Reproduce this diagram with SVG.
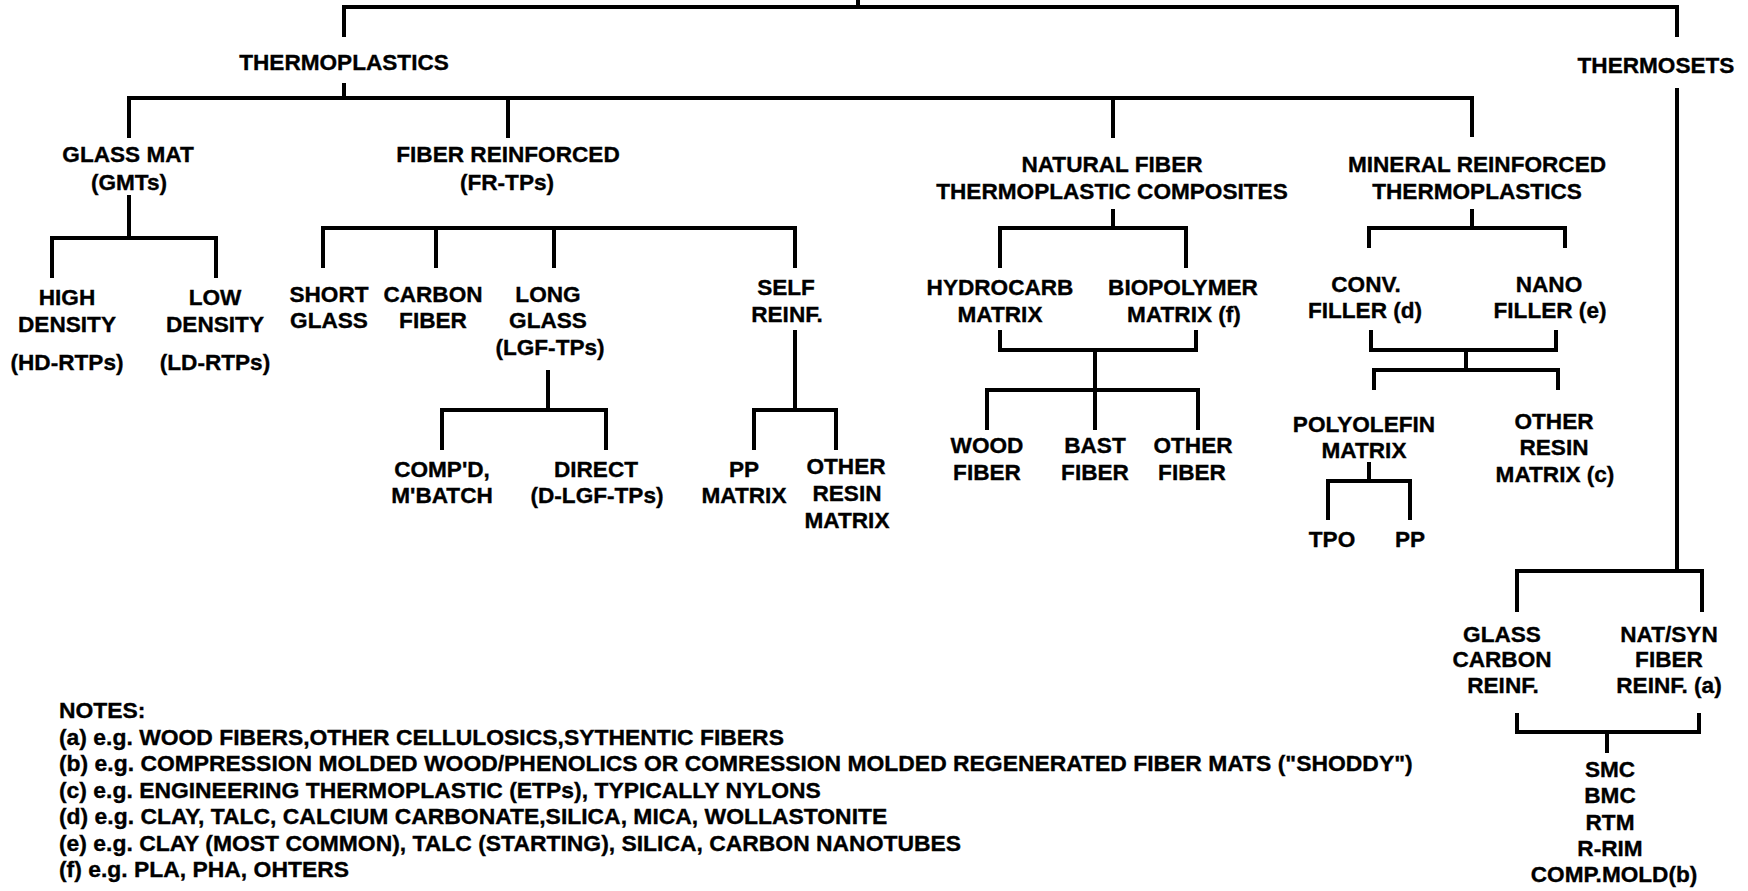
<svg xmlns="http://www.w3.org/2000/svg" width="1748" height="891" viewBox="0 0 1748 891">
<style>
text{font-family:"Liberation Sans",Arial,sans-serif;font-weight:bold;font-size:22.6px;fill:#000;stroke:#000;stroke-width:0.35}
.c{text-anchor:middle}
.n{font-size:22.9px}
.ln{fill:none;stroke:#000;stroke-width:4;stroke-linejoin:miter;stroke-linecap:butt}
</style>
<rect width="1748" height="891" fill="#fff"/>
<g id="connectors" class="ln">
<path d="M858,0V7"/>
<path d="M344,37V7H1677V37"/>
<path d="M344,83V98"/>
<path d="M129,138V98H1472V137"/>
<path d="M508,98V138"/>
<path d="M1113,98V138"/>
<path d="M1677,88V571"/>
<path d="M1517,612V571H1702V612"/>
<path d="M129,195V238"/>
<path d="M52,278V238H216V278"/>
<path d="M323,268V228H795V268"/>
<path d="M436,228V268"/>
<path d="M554,228V268"/>
<path d="M548,370V410"/>
<path d="M442,450V410H606V450"/>
<path d="M795,330V410"/>
<path d="M754,450V410H836V450"/>
<path d="M1113,209V228"/>
<path d="M1000,268V228H1186V268"/>
<path d="M1000,330V350H1196V330"/>
<path d="M1095,350V430"/>
<path d="M987,430V390H1198V430"/>
<path d="M1472,209V228"/>
<path d="M1369,248V228H1565V248"/>
<path d="M1371,330V350H1556V330"/>
<path d="M1466,350V370"/>
<path d="M1374,390V370H1558V390"/>
<path d="M1369,462V481"/>
<path d="M1328,520V481H1410V520"/>
<path d="M1517,713V732H1699V713"/>
<path d="M1607,732V753"/>
</g>
<g id="thermoplastics"><text class="c" x="344" y="70">THERMOPLASTICS</text></g>
<g id="thermosets"><text class="c" x="1656" y="73">THERMOSETS</text></g>
<g id="gmt"><text class="c" x="128" y="162">GLASS MAT</text><text class="c" x="129" y="190">(GMTs)</text></g>
<g id="frtp"><text class="c" x="508" y="162">FIBER REINFORCED</text><text class="c" x="507" y="190">(FR-TPs)</text></g>
<g id="nftc"><text class="c" x="1112" y="172">NATURAL FIBER</text><text class="c" x="1112" y="199">THERMOPLASTIC COMPOSITES</text></g>
<g id="mrtp"><text class="c" x="1477" y="172">MINERAL REINFORCED</text><text class="c" x="1477" y="199">THERMOPLASTICS</text></g>
<g id="hd"><text class="c" x="67" y="305">HIGH</text><text class="c" x="67" y="332">DENSITY</text><text class="c" x="67" y="370">(HD-RTPs)</text></g>
<g id="ld"><text class="c" x="215" y="305">LOW</text><text class="c" x="215" y="332">DENSITY</text><text class="c" x="215" y="370">(LD-RTPs)</text></g>
<g id="short"><text class="c" x="329" y="302">SHORT</text><text class="c" x="329" y="328">GLASS</text></g>
<g id="carbon"><text class="c" x="433" y="302">CARBON</text><text class="c" x="433" y="328">FIBER</text></g>
<g id="long"><text class="c" x="548" y="302">LONG</text><text class="c" x="548" y="328">GLASS</text><text class="c" x="550" y="355">(LGF-TPs)</text></g>
<g id="self"><text class="c" x="786" y="295">SELF</text><text class="c" x="787" y="322">REINF.</text></g>
<g id="hydrocarb"><text class="c" x="1000" y="295">HYDROCARB</text><text class="c" x="1000" y="322">MATRIX</text></g>
<g id="biopolymer"><text class="c" x="1183" y="295">BIOPOLYMER</text><text class="c" x="1184" y="322">MATRIX (f)</text></g>
<g id="conv"><text class="c" x="1366" y="292">CONV.</text><text class="c" x="1365" y="318">FILLER (d)</text></g>
<g id="nano"><text class="c" x="1549" y="292">NANO</text><text class="c" x="1550" y="318">FILLER (e)</text></g>
<g id="compd"><text class="c" x="442" y="477">COMP'D,</text><text class="c" x="442" y="503">M'BATCH</text></g>
<g id="direct"><text class="c" x="596" y="477">DIRECT</text><text class="c" x="597" y="503">(D-LGF-TPs)</text></g>
<g id="ppmatrix"><text class="c" x="744" y="477">PP</text><text class="c" x="744" y="503">MATRIX</text></g>
<g id="otherresin"><text class="c" x="846" y="474">OTHER</text><text class="c" x="847" y="501">RESIN</text><text class="c" x="847" y="528">MATRIX</text></g>
<g id="wood"><text class="c" x="987" y="453">WOOD</text><text class="c" x="987" y="480">FIBER</text></g>
<g id="bast"><text class="c" x="1095" y="453">BAST</text><text class="c" x="1095" y="480">FIBER</text></g>
<g id="otherfiber"><text class="c" x="1193" y="453">OTHER</text><text class="c" x="1192" y="480">FIBER</text></g>
<g id="polyolefin"><text class="c" x="1364" y="432">POLYOLEFIN</text><text class="c" x="1364" y="458">MATRIX</text></g>
<g id="otherresinc"><text class="c" x="1554" y="429">OTHER</text><text class="c" x="1554" y="455">RESIN</text><text class="c" x="1555" y="482">MATRIX (c)</text></g>
<g id="tpo"><text class="c" x="1332" y="547">TPO</text></g>
<g id="pp"><text class="c" x="1410" y="547">PP</text></g>
<g id="glasscarbon"><text class="c" x="1502" y="642">GLASS</text><text class="c" x="1502" y="667">CARBON</text><text class="c" x="1503" y="693">REINF.</text></g>
<g id="natsyn"><text class="c" x="1669" y="642">NAT/SYN</text><text class="c" x="1669" y="667">FIBER</text><text class="c" x="1669" y="693">REINF. (a)</text></g>
<g id="processes"><text class="c" x="1610" y="777">SMC</text><text class="c" x="1610" y="803">BMC</text><text class="c" x="1610" y="830">RTM</text><text class="c" x="1610" y="856">R-RIM</text><text class="c" x="1614" y="882">COMP.MOLD(b)</text></g>
<g id="notes">
<text class="n" x="59" y="718">NOTES:</text>
<text class="n" x="59" y="745">(a) e.g. WOOD FIBERS,OTHER CELLULOSICS,SYTHENTIC FIBERS</text>
<text class="n" x="59" y="771">(b) e.g. COMPRESSION MOLDED WOOD/PHENOLICS OR COMRESSION MOLDED REGENERATED FIBER MATS ("SHODDY")</text>
<text class="n" x="59" y="798">(c) e.g.  ENGINEERING THERMOPLASTIC (ETPs), TYPICALLY NYLONS</text>
<text class="n" x="59" y="824">(d) e.g. CLAY, TALC, CALCIUM CARBONATE,SILICA, MICA, WOLLASTONITE</text>
<text class="n" x="59" y="851">(e) e.g. CLAY (MOST COMMON), TALC (STARTING), SILICA, CARBON NANOTUBES</text>
<text class="n" x="59" y="877">(f) e.g. PLA, PHA, OHTERS</text>
</g>
</svg>
